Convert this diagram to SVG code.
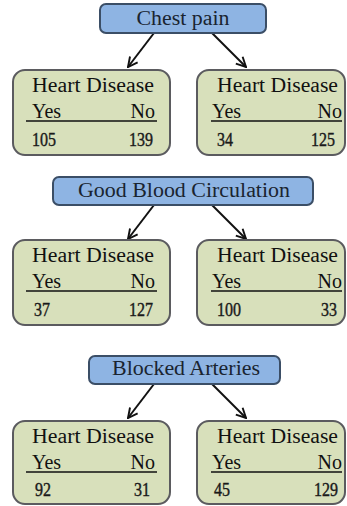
<svg xmlns="http://www.w3.org/2000/svg" width="347" height="506" viewBox="0 0 347 506">
<defs>
<style>
.root{fill:#8eb4e3;stroke:#3b4e66;stroke-width:2}
.leaf{fill:#d8e0bb;stroke:#5b5b5f;stroke-width:2}
.t{font-size:20px;fill:#111}
.n{font-size:18px;fill:#1a1a1a;stroke:#1a1a1a;stroke-width:0.4}
.rt{font-size:20px;fill:#1a2430;text-anchor:middle}
.e{text-anchor:end}
.u{stroke:#111;stroke-width:1.5}
.c{stroke:#111;stroke-width:2;fill:none;marker-end:url(#ah)}
</style>
<marker id="ah" viewBox="0 0 10 10" refX="9" refY="5" markerWidth="6" markerHeight="6" orient="auto" markerUnits="strokeWidth">
<path d="M1,1 L9,5 L1,9" fill="none" stroke="#111" stroke-width="1.6"/>
</marker>
</defs>
<rect width="347" height="506" fill="#ffffff"/>

<g id="connectors">
<line class="c" x1="154" y1="33" x2="128" y2="67"/>
<line class="c" x1="212" y1="33" x2="246" y2="67"/>
<line class="c" x1="154" y1="205" x2="128" y2="239"/>
<line class="c" x1="212" y1="205" x2="246" y2="239"/>
<line class="c" x1="154" y1="384" x2="128" y2="418"/>
<line class="c" x1="212" y1="384" x2="246" y2="418"/>
</g>

<g font-family="Liberation Serif, DejaVu Serif, serif">
<g id="chest-pain">
<rect class="root" x="100" y="4" width="166" height="29" rx="6"/>
<text class="rt" x="183" y="25" textLength="93" lengthAdjust="spacingAndGlyphs">Chest pain</text>
</g>
<g id="cp-yes">
<rect class="leaf" x="13" y="70" width="157" height="85" rx="12"/>
<text class="t" x="32" y="92" textLength="122" lengthAdjust="spacingAndGlyphs">Heart Disease</text>
<text class="t" x="32" y="118">Yes</text>
<text class="t e" x="155" y="118">No</text>
<line class="u" x1="26" y1="121" x2="157" y2="121"/>
<text class="n" x="32" y="146" textLength="24" lengthAdjust="spacingAndGlyphs">105</text>
<text class="n e" x="153" y="146" textLength="24" lengthAdjust="spacingAndGlyphs">139</text>
</g>
<g id="cp-no">
<rect class="leaf" x="197" y="70" width="148" height="85" rx="12"/>
<text class="t" x="217" y="92" textLength="121" lengthAdjust="spacingAndGlyphs">Heart Disease</text>
<text class="t" x="212" y="118">Yes</text>
<text class="t e" x="342" y="118">No</text>
<line class="u" x1="211" y1="121" x2="342" y2="121"/>
<text class="n" x="217" y="146" textLength="16" lengthAdjust="spacingAndGlyphs">34</text>
<text class="n e" x="335" y="146" textLength="24" lengthAdjust="spacingAndGlyphs">125</text>
</g>

<g id="good-blood-circulation">
<rect class="root" x="53" y="177" width="260" height="28" rx="6"/>
<text class="rt" x="184" y="197" textLength="212" lengthAdjust="spacingAndGlyphs">Good Blood Circulation</text>
</g>
<g id="gbc-yes">
<rect class="leaf" x="13" y="240" width="157" height="85" rx="12"/>
<text class="t" x="32" y="262" textLength="122" lengthAdjust="spacingAndGlyphs">Heart Disease</text>
<text class="t" x="32" y="288">Yes</text>
<text class="t e" x="155" y="288">No</text>
<line class="u" x1="26" y1="291" x2="157" y2="291"/>
<text class="n" x="34" y="316" textLength="16" lengthAdjust="spacingAndGlyphs">37</text>
<text class="n e" x="153" y="316" textLength="24" lengthAdjust="spacingAndGlyphs">127</text>
</g>
<g id="gbc-no">
<rect class="leaf" x="197" y="240" width="148" height="85" rx="12"/>
<text class="t" x="217" y="262" textLength="121" lengthAdjust="spacingAndGlyphs">Heart Disease</text>
<text class="t" x="212" y="288">Yes</text>
<text class="t e" x="342" y="288">No</text>
<line class="u" x1="211" y1="291" x2="342" y2="291"/>
<text class="n" x="217" y="316" textLength="24" lengthAdjust="spacingAndGlyphs">100</text>
<text class="n e" x="337" y="316" textLength="16" lengthAdjust="spacingAndGlyphs">33</text>
</g>

<g id="blocked-arteries">
<rect class="root" x="89" y="356" width="191" height="28" rx="6"/>
<text class="rt" x="186" y="375" textLength="148" lengthAdjust="spacingAndGlyphs">Blocked Arteries</text>
</g>
<g id="ba-yes">
<rect class="leaf" x="13" y="421" width="157" height="83" rx="12"/>
<text class="t" x="32" y="443" textLength="122" lengthAdjust="spacingAndGlyphs">Heart Disease</text>
<text class="t" x="32" y="469">Yes</text>
<text class="t e" x="155" y="469">No</text>
<line class="u" x1="26" y1="472" x2="157" y2="472"/>
<text class="n" x="35" y="496" textLength="16" lengthAdjust="spacingAndGlyphs">92</text>
<text class="n e" x="150" y="496" textLength="16" lengthAdjust="spacingAndGlyphs">31</text>
</g>
<g id="ba-no">
<rect class="leaf" x="197" y="421" width="148" height="83" rx="12"/>
<text class="t" x="217" y="443" textLength="121" lengthAdjust="spacingAndGlyphs">Heart Disease</text>
<text class="t" x="212" y="469">Yes</text>
<text class="t e" x="342" y="469">No</text>
<line class="u" x1="211" y1="472" x2="342" y2="472"/>
<text class="n" x="214" y="496" textLength="16" lengthAdjust="spacingAndGlyphs">45</text>
<text class="n e" x="338" y="496" textLength="24" lengthAdjust="spacingAndGlyphs">129</text>
</g>
</g>
</svg>
